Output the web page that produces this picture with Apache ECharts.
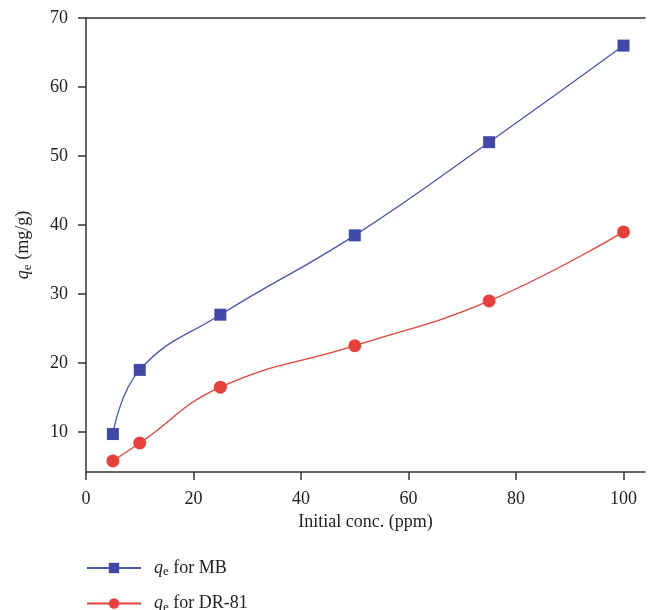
<!DOCTYPE html>
<html>
<head>
<meta charset="utf-8">
<script src="https://cdn.jsdelivr.net/npm/echarts@6/dist/echarts.min.js"></script>
<style>html,body{margin:0;padding:0;background:#fff}#c{width:648px;height:610px}</style>
</head>
<body>
<div id="c"></div>
<script>
var concX = [5, 10, 25, 50, 75, 100];
var qeMB = [9.7, 19.0, 27.0, 38.5, 52.0, 66.0];
var qeDR = [5.8, 8.4, 16.5, 22.5, 29.0, 39.0];
var xTicks = [0, 20, 40, 60, 80, 100];
var yTicks = [10, 20, 30, 40, 50, 60, 70];
var seriesNames = ['MB', 'DR-81'];

var FONT = '"Liberation Serif", "DejaVu Serif", serif';
var chart = echarts.init(document.getElementById('c'), null, {renderer: 'canvas'});
var rich = {
  q: {fontStyle: 'italic', fontSize: 18, fontFamily: FONT, color: '#222'},
  s: {fontSize: 13, fontFamily: FONT, color: '#222', verticalAlign: 'bottom', padding: [8, 0, 0, 0]},
  t: {fontSize: 18, fontFamily: FONT, color: '#222'}
};
chart.setOption({
  animation: false,
  backgroundColor: '#fff',
  grid: {left: 86, right: 3, top: 18, bottom: 138, show: false},
  xAxis: [{
    type: 'value', min: 0, max: 104, interval: 20,
    name: 'Initial conc. (ppm)', nameLocation: 'middle', nameGap: 41,
    nameTextStyle: {fontSize: 18, fontFamily: FONT, color: '#222'},
    axisLine: {lineStyle: {color: '#333', width: 1.5}},
    axisTick: {show: true, length: 8, lineStyle: {color: '#333', width: 1.5}, customValues: xTicks},
    axisLabel: {fontSize: 18, fontFamily: FONT, color: '#222', margin: 18, customValues: xTicks},
    splitLine: {show: false}
  }, {
    type: 'value', position: 'top', min: 0, max: 104,
    axisLine: {show: true, lineStyle: {color: '#333', width: 1.5}},
    axisTick: {show: false}, axisLabel: {show: false}, splitLine: {show: false}
  }],
  yAxis: {
    type: 'value', min: 4.2, max: 70,
    name: '{q|q}{s|e}{t| (mg/g)}', nameLocation: 'middle', nameGap: 52, nameRotate: 90,
    nameTextStyle: {rich: rich},
    axisLine: {lineStyle: {color: '#333', width: 1.5}},
    axisTick: {show: true, length: 8, lineStyle: {color: '#333', width: 1.5},
      customValues: yTicks},
    axisLabel: {fontSize: 18, fontFamily: FONT, color: '#222', margin: 18,
      customValues: yTicks},
    splitLine: {show: false}
  },
  legend: {
    orient: 'vertical', left: 81, top: 554, height: 120, itemGap: 16,
    itemWidth: 54, itemHeight: 13,
    data: seriesNames,
    formatter: function (n) { return '{q|q}{s|e}{t| for ' + n + '}'; },
    textStyle: {rich: rich, padding: [0, 0, 0, 8]}
  },
  series: [
    {
      name: seriesNames[0], type: 'line', smooth: 0.45,
      data: concX.map(function (x, i) { return [x, qeMB[i]]; }),
      symbol: 'rect', symbolSize: 12,
      itemStyle: {color: '#4049A8'},
      lineStyle: {color: '#4A53B5', width: 1.3}
    },
    {
      name: seriesNames[1], type: 'line', smooth: 0.45,
      data: concX.map(function (x, i) { return [x, qeDR[i]]; }),
      symbol: 'circle', symbolSize: 13,
      itemStyle: {color: '#E8403A'},
      lineStyle: {color: '#E8403A', width: 1.3}
    }
  ]
});
</script>
</body>
</html>
